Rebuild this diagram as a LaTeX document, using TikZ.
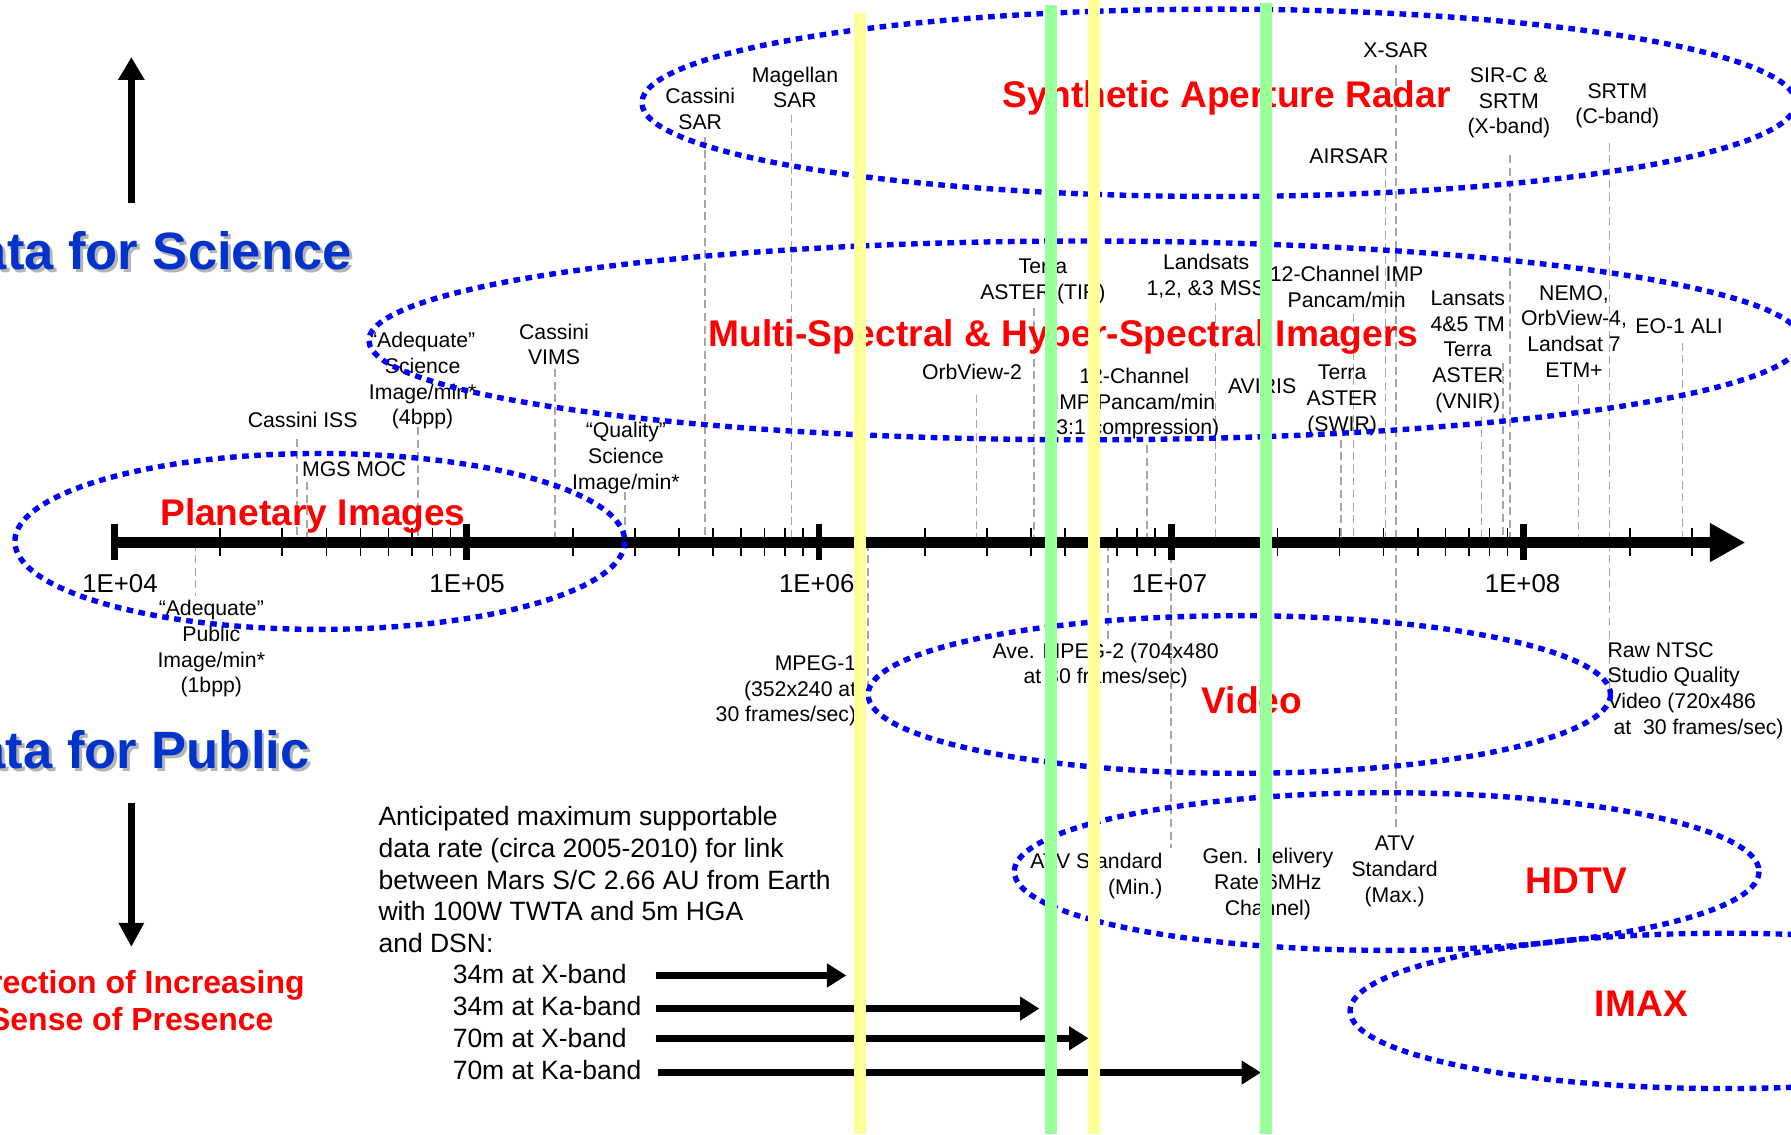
\documentclass[tikz,border=0pt]{standalone}
\usepackage{fontspec}
\setmainfont{Liberation Sans}
\usetikzlibrary{arrows.meta}
\definecolor{ellblue}{HTML}{0000FF}
\definecolor{tred}{HTML}{FF0000}
\definecolor{sciblue}{HTML}{0033CC}
\definecolor{shadowgray}{HTML}{B4B4B4}
\definecolor{leadgray}{HTML}{A6A6A6}
\definecolor{barGreen}{HTML}{99FF99}
\definecolor{barYellow}{HTML}{FFFF99}
\begin{document}
\begin{tikzpicture}[x=0.5pt,y=-0.5pt,
  lbl/.style={inner sep=0pt, align=center, yshift=-0.75pt, font=\fontsize{9.3}{11.25}\selectfont},
  ticklbl/.style={inner sep=0pt, font=\fontsize{11.3}{13}\selectfont},
  title/.style={inner sep=0pt, text=tred, yshift=-1.5pt, font=\fontsize{16.25}{19}\selectfont\bfseries},
  bigblue/.style={inner sep=0pt, anchor=base west, text=sciblue, font=\fontsize{23}{27}\selectfont\bfseries},
  bigshadow/.style={inner sep=0pt, anchor=base west, text=shadowgray, font=\fontsize{23}{27}\selectfont\bfseries},
  para/.style={inner sep=0pt, align=left, font=\fontsize{11.6}{14}\selectfont},
  leader/.style={draw=leadgray, line width=0.7pt, dash pattern=on 3.5pt off 2pt},
  ellpath/.style={draw=ellblue, line width=2.35pt, dash pattern=on 2.9pt off 2.4pt},
  majortick/.style={line width=3pt},
  minortick/.style={line width=0.75pt},
  bararrow/.style={line width=3.2pt, -{Triangle[length=8.5pt,width=10pt]}},
  vbar/.style={line width=5.25pt}
]
\useasboundingbox (0,0) rectangle (1568,993);
\begin{scope}
\clip (0,0) rectangle (1568,993);
\fill[white] (0,0) rectangle (1568,993);

% ---------- leader lines ----------
\foreach \n/\x/\ya/\yb in {
  pub/171/475/522, iss/260/384/475, moc/269/422/475, adqsci/366/374/475,
  vims/486/323/475, qual/547/431/475, cassar/617/120/475, mag/693/101/475,
  mpega/760/475/606, orbb/855/346/475, tir/905/270/475, mpegb/970/475/560,
  impc/1004/390/475, atvmin/1025/475/742, mss/1064/265/475, swir/1174/385/475,
  imp/1185/275/475, airsar/1213/147/475, xsar/1222/57/475, atvmax/1222/475/728,
  vnir/1297/365/475, tm/1316/318/475, sirc/1322/136/475, nemo/1382/336/475,
  srtmc/1409/125/475, ntsc/1409/475/607, eo/1473/300/475}
{
  \coordinate (t\n) at (\x,\ya);
  \coordinate (b\n) at (\x,\yb);
  \draw[leader] (t\n) -- (b\n);
}

% ---------- axis ----------
\coordinate (ax0) at (100,475);
\coordinate (ax1) at (1528,475);
\draw[line width=5pt, -{Triangle[length=15.5pt,width=16pt]}] (ax0) -- (ax1);
\foreach \d in {0,1,2,3,4}{
  \coordinate (mt\d a) at ({100+308.5*\d},459);
  \coordinate (mt\d b) at ({100+308.5*\d},490);
  \draw[majortick] (mt\d a) -- (mt\d b);
}
\foreach \d in {0,1,2,3}{
  \foreach \l [count=\k] in {0.30103,0.47712,0.60206,0.69897,0.77815,0.84510,0.90309,0.95424}{
    \coordinate (nt\d-\k a) at ({100+308.5*(\d+\l)},462);
    \coordinate (nt\d-\k b) at ({100+308.5*(\d+\l)},487);
    \draw[minortick] (nt\d-\k a) -- (nt\d-\k b);
  }
}
\foreach \l [count=\k] in {0.30103,0.47712}{
  \coordinate (nt4-\k a) at ({100+308.5*(4+\l)},462);
  \coordinate (nt4-\k b) at ({100+308.5*(4+\l)},487);
  \draw[minortick] (nt4-\k a) -- (nt4-\k b);
}
\node[ticklbl] (e4) at (105,511) {1E+04};
\node[ticklbl] (e5) at (409,511) {1E+05};
\node[ticklbl] (e6) at (715,511) {1E+06};
\node[ticklbl] (e7) at (1024,511) {1E+07};
\node[ticklbl] (e8) at (1333,511) {1E+08};

% ---------- left side ----------
\node[bigshadow] (scish) at (-50.5,238.5) {Data for Science};
\node[bigblue] (sci) at (-53,236) {Data for Science};
\node[bigshadow] (pubsh) at (-51.5,675.5) {Data for Public};
\node[bigblue] (pubt) at (-54,673) {Data for Public};
\coordinate (up0) at (115,178);
\coordinate (up1) at (115,50);
\draw[line width=3pt, -{Triangle[length=10pt,width=11pt]}] (up0) -- (up1);
\coordinate (dn0) at (115,703);
\coordinate (dn1) at (115,829);
\draw[line width=3pt, -{Triangle[length=10.5pt,width=10.5pt]}] (dn0) -- (dn1);
\node[inner sep=0pt, align=center, text=tred, font=\fontsize{14}{16.5}\selectfont\bfseries] (dir) at (115,876) {Direction of Increasing\\Sense of Presence};

% ---------- SAR labels ----------
\node[lbl] (lcassar) at (613,94) {Cassini\\SAR};
\node[lbl] (lmag) at (696,75) {Magellan\\SAR};
\node[lbl] (lxsar) at (1222,42) {X-SAR};
\node[lbl] (lairsar) at (1181,135) {AIRSAR};
\node[lbl] (lsirc) at (1321,88.5) {SIR-C \&\\SRTM\\(X-band)};
\node[lbl] (lsrtmc) at (1416,91) {SRTM\\(C-band)};
\node[title] (tsar) at (1074,83) {Synthetic Aperture Radar};

% ---------- MSI labels ----------
\node[lbl] (ltir) at (913,245) {Terra\\ASTER (TIR)};
\node[lbl] (lmss) at (1056,240) {Landsats\\1,2, \&3 MSS};
\node[lbl] (limp) at (1179,249.5) {12-Channel IMP\\Pancam/min};
\node[title] (tmsi) at (931,292) {Multi-Spectral \& Hyper-Spectral Imagers};
\node[lbl] (lvnir) at (1285,306.5) {Lansats\\4\&5 TM\\Terra\\ASTER\\(VNIR)};
\node[lbl] (lnemo) at (1378,288.5) {NEMO,\\OrbView-4,\\Landsat 7\\ETM+};
\node[lbl] (leo) at (1470,284) {EO-1 ALI};
\node[lbl] (lorbb) at (851,324) {OrbView-2};
\node[lbl] (limpc) at (993,352) {12-Channel\\IMP Pancam/min\\(3:1 compression)};
\node[lbl] (laviris) at (1105,337) {AVIRIS};
\node[lbl] (lswir) at (1175,349) {Terra\\ASTER\\(SWIR)};

% ---------- planetary labels ----------
\node[lbl] (liss) at (265,366) {Cassini ISS};
\node[lbl] (ladqsci) at (370,332) {“Adequate”\\Science\\Image/min*\\(4bpp)};
\node[lbl] (lvims) at (485,300) {Cassini\\VIMS};
\node[lbl] (lmoc) at (310,409) {MGS MOC};
\node[title] (tplan) at (274,449) {Planetary Images};
\node[lbl] (lqual) at (548,399.5) {“Quality”\\Science\\Image/min*};
\node[lbl] (lpub) at (185,566.5) {“Adequate”\\Public\\Image/min*\\(1bpp)};

% ---------- video labels ----------
\node[lbl, anchor=east, align=right] (lmpega) at (750,603.5) {MPEG-1\\(352x240 at\\30 frames/sec)};
\node[lbl] (lmpegb) at (968,581) {Ave. MPEG-2 (704x480\\at 30 frames/sec)};
\node[title] (tvideo) at (1096,610) {Video};
\node[lbl, anchor=west, align=left] (lntsc) at (1407,603) {Raw NTSC\\Studio Quality\\Video (720x486\\\hspace*{0.28em}at\ \ 30 frames/sec)};

% ---------- HDTV labels ----------
\node[lbl, anchor=east, align=right] (latvmin) at (1018,765.5) {ATV Standard\\(Min.)};
\node[lbl] (lgen) at (1110,772.5) {Gen. Delivery\\Rate(6MHz\\Channel)};
\node[lbl] (latvmax) at (1221,761.5) {ATV\\Standard\\(Max.)};
\node[title] (thdtv) at (1380,768) {HDTV};
\node[title] (timax) at (1437,876) {IMAX};

% ---------- bottom paragraph and link arrows ----------
\node[para, anchor=west] (antic) at (331,770) {Anticipated maximum supportable\\data rate (circa 2005-2010) for link\\between Mars S/C 2.66 AU from Earth\\with 100W TWTA and 5m HGA\\and DSN:};
\node[para, anchor=west] (l34x) at (396,853) {34m at X-band};
\node[para, anchor=west] (l34k) at (396,881) {34m at Ka-band};
\node[para, anchor=west] (l70x) at (396,909) {70m at X-band};
\node[para, anchor=west] (l70k) at (396,937) {70m at Ka-band};
\coordinate (s34x) at (574,854);  \coordinate (e34x) at (741,854);
\coordinate (s34k) at (574,883);  \coordinate (e34k) at (910,883);
\coordinate (s70x) at (574,909);  \coordinate (e70x) at (953,909);
\coordinate (s70k) at (576,939);  \coordinate (e70k) at (1104,939);
\draw[bararrow] (s34x) -- (e34x);
\draw[bararrow] (s34k) -- (e34k);
\draw[bararrow] (s70x) -- (e70x);
\draw[bararrow] (s70k) -- (e70k);

% ---------- ellipses ----------
\draw[ellpath] (1067,90) ellipse [x radius=505, y radius=82];
\draw[ellpath] (950,298) ellipse [x radius=627, y radius=87];
\draw[ellpath] (280,474) ellipse [x radius=267, y radius=77];
\draw[ellpath] (1085,608) ellipse [x radius=325, y radius=69];
\draw[ellpath] (1214,763) ellipse [x radius=326, y radius=69];
\draw[ellpath] (1510,885) ellipse [x radius=328, y radius=68];

% ---------- vertical bars ----------
\coordinate (y1a) at (753,11);  \coordinate (y1b) at (753,993);
\coordinate (g1a) at (920,4);   \coordinate (g1b) at (920,993);
\coordinate (y2a) at (958,0);   \coordinate (y2b) at (958,993);
\coordinate (g2a) at (1108,3);  \coordinate (g2b) at (1108,993);
\draw[vbar, draw=barYellow] (y1a) -- (y1b);
\draw[vbar, draw=barGreen] (g1a) -- (g1b);
\draw[vbar, draw=barYellow] (y2a) -- (y2b);
\draw[vbar, draw=barGreen] (g2a) -- (g2b);
\end{scope}
\end{tikzpicture}
\end{document}
